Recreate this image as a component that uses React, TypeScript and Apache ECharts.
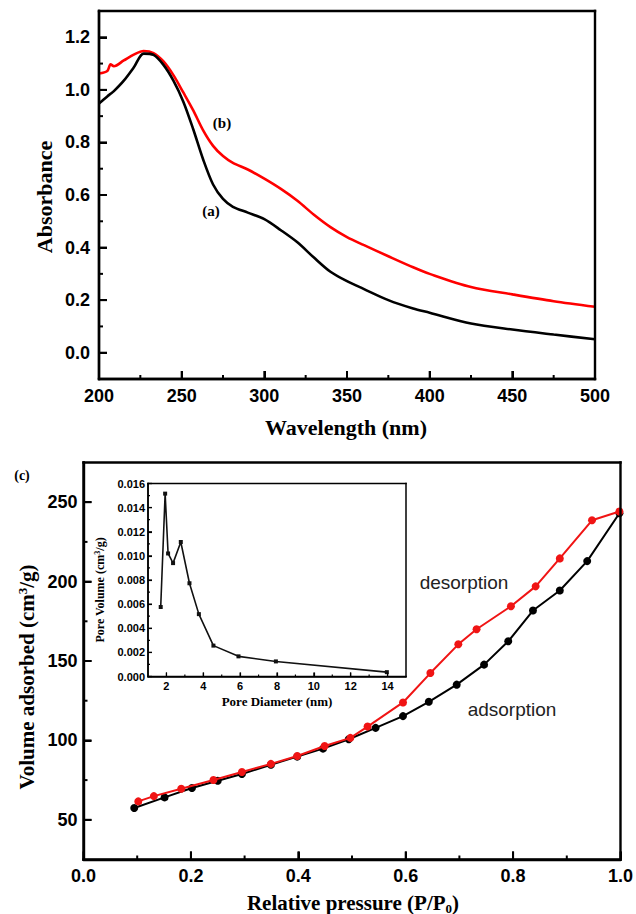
import React, { useEffect, useRef } from "react";
import * as echarts from "echarts";

// ---------- (a)/(b) UV-Vis data ----------
const wavelengths = [200, 205, 207, 209, 215, 221, 227, 233, 239, 245, 251, 257, 263, 269, 275, 281, 290, 300, 310, 320, 330, 340, 350, 360, 375, 390, 400, 425, 450, 475, 500];
const absorbanceA = [0.948, 0.975, 0.985, 0.995, 1.035, 1.085, 1.138, 1.133, 1.095, 1.035, 0.955, 0.85, 0.735, 0.64, 0.585, 0.555, 0.533, 0.508, 0.466, 0.42, 0.362, 0.308, 0.272, 0.243, 0.2, 0.168, 0.152, 0.111, 0.088, 0.069, 0.051];
const absorbanceB = [1.062, 1.072, 1.097, 1.09, 1.112, 1.134, 1.148, 1.14, 1.108, 1.056, 0.99, 0.922, 0.846, 0.787, 0.748, 0.722, 0.697, 0.662, 0.623, 0.578, 0.525, 0.478, 0.44, 0.41, 0.367, 0.325, 0.3, 0.25, 0.222, 0.196, 0.175];
const uvXTicks = [200, 250, 300, 350, 400, 450, 500];
const uvXMinor = [225, 275, 325, 375, 425, 475];
const uvYTicks = [0, 0.2, 0.4, 0.6, 0.8, 1.0, 1.2];
const uvYMinor = [0.1, 0.3, 0.5, 0.7, 0.9, 1.1];

// ---------- (c) N2 isotherm data ----------
const adsPressure = [0.0945, 0.151, 0.202, 0.25, 0.295, 0.349, 0.398, 0.446, 0.494, 0.544, 0.595, 0.643, 0.695, 0.746, 0.791, 0.837, 0.887, 0.938, 0.998];
const adsVolume = [57.4, 64.1, 70, 74.6, 78.8, 84.7, 89.8, 94.8, 100.7, 107.9, 115.3, 124.3, 135.1, 147.7, 162.4, 181.8, 194.4, 212.9, 243];
const desPressure = [0.102, 0.131, 0.182, 0.242, 0.295, 0.349, 0.398, 0.449, 0.497, 0.529, 0.595, 0.646, 0.698, 0.732, 0.796, 0.842, 0.887, 0.947, 0.998];
const desVolume = [61.6, 64.9, 69.6, 75.1, 80.1, 85.2, 90.2, 96.5, 101.6, 108.7, 123.9, 142.4, 160.5, 170, 184.5, 197, 214.6, 238.6, 244.1];
const bXTicks = [0, 0.2, 0.4, 0.6, 0.8, 1.0];
const bXMinor = [0.1, 0.3, 0.5, 0.7, 0.9];
const bYTicks = [50, 100, 150, 200, 250];
const bYMinor = [75, 125, 175, 225];

// ---------- inset pore size distribution ----------
const poreDiameter = [1.69, 1.93, 2.09, 2.36, 2.78, 3.25, 3.76, 4.55, 5.91, 7.94, 13.96];
const poreVolume = [0.00576, 0.01516, 0.0102, 0.0094, 0.01115, 0.00773, 0.00517, 0.00256, 0.00167, 0.00125, 0.00036];
const inXTicks = [2, 4, 6, 8, 10, 12, 14];
const inXMinor = [3, 5, 7, 9, 11, 13];
const inYTicks = [0, 0.002, 0.004, 0.006, 0.008, 0.01, 0.012, 0.014, 0.016];
const inYMinor = [0.001, 0.003, 0.005, 0.007, 0.009, 0.011, 0.013, 0.015];

const SANS = "'Liberation Sans', Arial, sans-serif";
const SERIF = "'Liberation Serif', 'Times New Roman', serif";

type Panel = {
  grid: { left: number; top: number; width: number; height: number };
  xMin: number; xMax: number; yMin: number; yMax: number;
  xTicks: number[]; xMinor: number[]; yTicks: number[]; yMinor: number[];
  tickLen: number; tickWidth: number; frameWidth: number;
};

const panels: Panel[] = [
  { grid: { left: 99, top: 11, width: 496, height: 368 }, xMin: 200, xMax: 500, yMin: -0.1, yMax: 1.3, xTicks: uvXTicks, xMinor: uvXMinor, yTicks: uvYTicks, yMinor: uvYMinor, tickLen: 8, tickWidth: 2, frameWidth: 2.4 },
  { grid: { left: 83.5, top: 462.5, width: 543.5, height: 397 }, xMin: 0, xMax: 1, yMin: 25, yMax: 275, xTicks: bXTicks, xMinor: bXMinor, yTicks: bYTicks, yMinor: bYMinor, tickLen: 8, tickWidth: 2, frameWidth: 2.4 },
  { grid: { left: 148, top: 483.5, width: 258, height: 193 }, xMin: 1, xMax: 15, yMin: 0, yMax: 0.016, xTicks: inXTicks, xMinor: inXMinor, yTicks: inYTicks, yMinor: inYMinor, tickLen: 4, tickWidth: 1.2, frameWidth: 1.5 },
];

function valueAxis(gridIndex: number, min: number, max: number, ticks: number[], fmt: (v: number) => string, fontSize: number, margin: number, lineWidth: number, tickLen: number, tickWidth: number) {
  return {
    type: "value",
    gridIndex,
    min,
    max,
    splitLine: { show: false },
    axisLine: { show: true, onZero: false, lineStyle: { color: "#000", width: lineWidth } },
    axisTick: { show: true, inside: true, length: tickLen, customValues: ticks, lineStyle: { color: "#000", width: tickWidth } },
    axisLabel: { show: true, customValues: ticks, formatter: fmt, fontFamily: SANS, fontWeight: "bold", fontSize, color: "#000", margin },
  };
}

// frame + inward ticks for one panel, positioned through the axes' coordinate system
function frameSeries(p: Panel, idx: number) {
  return {
    type: "custom",
    xAxisIndex: idx,
    yAxisIndex: idx,
    silent: true,
    clip: false,
    z: 20,
    data: [[p.xMin, p.yMin]],
    renderItem: (_params: any, api: any) => {
      const c = (x: number, y: number) => api.coord([x, y]);
      const bl = c(p.xMin, p.yMin);
      const tr = c(p.xMax, p.yMax);
      const left = bl[0], bottom = bl[1], right = tr[0], top = tr[1];
      const fw = p.frameWidth, hw = fw / 2, tw = p.tickWidth;
      const kids: any[] = [];
      const bar = (x: number, y: number, w: number, h: number) =>
        kids.push({ type: "rect", shape: { x, y, width: w, height: h }, style: { fill: "#000" } });
      bar(left - hw, top - hw, right - left + fw, fw);
      bar(left - hw, bottom - hw, right - left + fw, fw);
      bar(left - hw, top - hw, fw, bottom - top + fw);
      bar(right - hw, top - hw, fw, bottom - top + fw);
      p.xTicks.forEach((v) => bar(c(v, p.yMin)[0] - tw / 2, bottom - p.tickLen, tw, p.tickLen));
      p.xMinor.forEach((v) => bar(c(v, p.yMin)[0] - tw / 2, bottom - p.tickLen / 2, tw, p.tickLen / 2));
      p.yTicks.forEach((v) => bar(left, c(p.xMin, v)[1] - tw / 2, p.tickLen, tw));
      p.yMinor.forEach((v) => bar(left, c(p.xMin, v)[1] - tw / 2, p.tickLen / 2, tw));
      return { type: "group", children: kids };
    },
  };
}

export default function App() {
  const ref = useRef<HTMLDivElement>(null);
  useEffect(() => {
    if (!ref.current) return;
    const chart = echarts.init(ref.current, null, { renderer: "svg" });
    const texts: any[] = [
      { type: "text", x: 44, y: 197, rotation: Math.PI / 2, z: 100, style: { text: "Absorbance", font: `bold 22px ${SERIF}`, fill: "#000", align: "center", verticalAlign: "middle" } },
      { type: "text", x: 346, y: 427, z: 100, style: { text: "Wavelength (nm)", font: `bold 22px ${SERIF}`, fill: "#000", align: "center", verticalAlign: "middle" } },
      { type: "text", x: 211, y: 211, z: 100, style: { text: "(a)", font: `bold 15px ${SERIF}`, fill: "#000", align: "center", verticalAlign: "middle" } },
      { type: "text", x: 222, y: 123, z: 100, style: { text: "(b)", font: `bold 15px ${SERIF}`, fill: "#000", align: "center", verticalAlign: "middle" } },
      { type: "text", x: 22, y: 475, z: 100, style: { text: "(c)", font: `bold 14px ${SERIF}`, fill: "#000", align: "center", verticalAlign: "middle" } },
      {
        type: "text", x: 27, y: 677, rotation: Math.PI / 2, z: 100,
        style: {
          text: "{a|Volume adsorbed (cm}{s|3}{a|/g)}", align: "center", verticalAlign: "middle",
          rich: {
            a: { font: `bold 21px ${SERIF}`, fill: "#000" },
            s: { font: `bold 13px ${SERIF}`, fill: "#000", padding: [0, 0, 10, 0] },
          },
        },
      },
      {
        type: "text", x: 353, y: 903, z: 100,
        style: {
          text: "{a|Relative pressure (P/P}{s|0}{a|)}", align: "center", verticalAlign: "middle",
          rich: {
            a: { font: `bold 21px ${SERIF}`, fill: "#000" },
            s: { font: `bold 13px ${SERIF}`, fill: "#000", padding: [10, 0, 0, 0] },
          },
        },
      },
      {
        type: "text", x: 100, y: 590, rotation: Math.PI / 2, z: 100,
        style: {
          text: "{a|Pore Volume (cm}{s|3}{a|/g)}", align: "center", verticalAlign: "middle",
          rich: {
            a: { font: `bold 12px ${SERIF}`, fill: "#000" },
            s: { font: `bold 8px ${SERIF}`, fill: "#000", padding: [0, 0, 6, 0] },
          },
        },
      },
      { type: "text", x: 277, y: 701, z: 100, style: { text: "Pore Diameter (nm)", font: `bold 13px ${SERIF}`, fill: "#000", align: "center", verticalAlign: "middle" } },
      { type: "text", x: 464, y: 582, z: 100, style: { text: "desorption", font: `19px ${SANS}`, fill: "#222", align: "center", verticalAlign: "middle" } },
      { type: "text", x: 512, y: 709, z: 100, style: { text: "adsorption", font: `19px ${SANS}`, fill: "#222", align: "center", verticalAlign: "middle" } },
    ];

    const option: any = {
      animation: false,
      grid: panels.map((p) => ({ ...p.grid })),
      xAxis: [
        valueAxis(0, 200, 500, uvXTicks, (v) => String(Math.round(v)), 18, 8, 2.4, 8, 2),
        valueAxis(1, 0, 1, bXTicks, (v) => v.toFixed(1), 18, 7, 2.4, 8, 2),
        valueAxis(2, 1, 15, inXTicks, (v) => String(Math.round(v)), 11, 4, 1.5, 4, 1.2),
      ],
      yAxis: [
        valueAxis(0, -0.1, 1.3, uvYTicks, (v) => v.toFixed(1), 18, 9, 2.4, 8, 2),
        valueAxis(1, 25, 275, bYTicks, (v) => String(Math.round(v)), 18, 6, 2.4, 8, 2),
        valueAxis(2, 0, 0.016, inYTicks, (v) => v.toFixed(3), 11, 3, 1.5, 4, 1.2),
      ],
      series: [
        {
          type: "line", name: "(b)", xAxisIndex: 0, yAxisIndex: 0,
          data: wavelengths.map((w, i) => [w, absorbanceB[i]]),
          showSymbol: false, smooth: 0.3,
          lineStyle: { color: "#ff0000", width: 2.6 }, z: 2,
        },
        {
          type: "line", name: "(a)", xAxisIndex: 0, yAxisIndex: 0,
          data: wavelengths.map((w, i) => [w, absorbanceA[i]]),
          showSymbol: false, smooth: 0.3,
          lineStyle: { color: "#000", width: 2.6 }, z: 3,
        },
        {
          type: "line", name: "adsorption", xAxisIndex: 1, yAxisIndex: 1,
          data: adsPressure.map((p, i) => [p, adsVolume[i]]),
          symbol: "circle", symbolSize: 8,
          lineStyle: { color: "#000", width: 2 }, itemStyle: { color: "#000" }, z: 2,
        },
        {
          type: "line", name: "desorption", xAxisIndex: 1, yAxisIndex: 1,
          data: desPressure.map((p, i) => [p, desVolume[i]]),
          symbol: "circle", symbolSize: 8,
          lineStyle: { color: "#f01414", width: 2 }, itemStyle: { color: "#f01414" }, z: 3,
        },
        {
          type: "line", name: "pore", xAxisIndex: 2, yAxisIndex: 2,
          data: poreDiameter.map((d, i) => [d, poreVolume[i]]),
          symbol: "rect", symbolSize: 4,
          lineStyle: { color: "#111", width: 1.6 }, itemStyle: { color: "#111" }, z: 6,
        },
        ...panels.map((p, i) => frameSeries(p, i)),
      ],
      graphic: { elements: texts },
    };
    chart.setOption(option);
    return () => chart.dispose();
  }, []);
  return <div ref={ref} style={{ position: "absolute", left: 0, top: 0, width: 636, height: 914, background: "#fff" }} />;
}
